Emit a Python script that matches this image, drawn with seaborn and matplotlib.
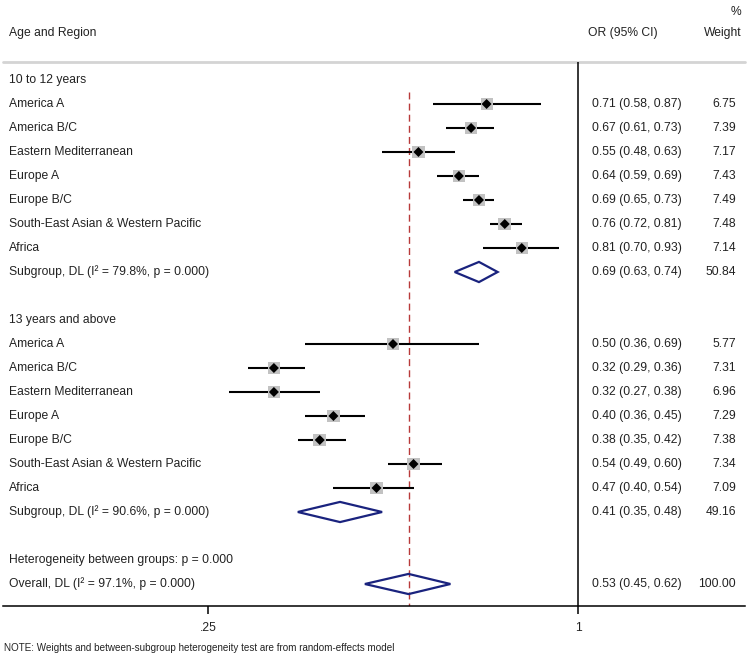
import numpy as np
import pandas as pd
import matplotlib
matplotlib.use("Agg")
import matplotlib.pyplot as plt
import matplotlib.transforms as mtransforms
import seaborn as sns

# ------------------------------------------------------------
# Data
# ------------------------------------------------------------
regions = [
    "America A",
    "America B/C",
    "Eastern Mediterranean",
    "Europe A",
    "Europe B/C",
    "South-East Asian & Western Pacific",
    "Africa",
]
groups = ["10 to 12 years", "13 years and above"]

or_young = [0.71, 0.67, 0.55, 0.64, 0.69, 0.76, 0.81]
lo_young = [0.58, 0.61, 0.48, 0.59, 0.65, 0.72, 0.70]
hi_young = [0.87, 0.73, 0.63, 0.69, 0.73, 0.81, 0.93]
wt_young = [6.75, 7.39, 7.17, 7.43, 7.49, 7.48, 7.14]

or_old = [0.50, 0.32, 0.32, 0.40, 0.38, 0.54, 0.47]
lo_old = [0.36, 0.29, 0.27, 0.36, 0.35, 0.49, 0.40]
hi_old = [0.69, 0.36, 0.38, 0.45, 0.42, 0.60, 0.54]
wt_old = [5.77, 7.31, 6.96, 7.29, 7.38, 7.34, 7.09]

sub_labels = [
    "Subgroup, DL (I\u00b2 = 79.8%, p = 0.000)",
    "Subgroup, DL (I\u00b2 = 90.6%, p = 0.000)",
]
sub_or = [0.69, 0.41]
sub_lo = [0.63, 0.35]
sub_hi = [0.74, 0.48]
sub_wt = [50.84, 49.16]

het_label = "Heterogeneity between groups: p = 0.000"
overall_label = "Overall, DL (I\u00b2 = 97.1%, p = 0.000)"
overall_or, overall_lo, overall_hi, overall_wt = 0.53, 0.45, 0.62, 100.00

tick_values = [0.25, 1]
tick_labels = [".25", "1"]
note = "NOTE: Weights and between-subgroup heterogeneity test are from random-effects model"

# ------------------------------------------------------------
# Build row table
# ------------------------------------------------------------
study_rows = []
for g, (ors, los, his, wts) in enumerate(
    [(or_young, lo_young, hi_young, wt_young), (or_old, lo_old, hi_old, wt_old)]
):
    base = g * 10
    for i, name in enumerate(regions):
        study_rows.append(
            {"row": base + 1 + i, "label": name, "or": ors[i],
             "lo": los[i], "hi": his[i], "weight": wts[i]}
        )
studies = pd.DataFrame(study_rows)

pooled = pd.DataFrame(
    {
        "row": [8, 18, 21],
        "label": sub_labels + [overall_label],
        "or": sub_or + [overall_or],
        "lo": sub_lo + [overall_lo],
        "hi": sub_hi + [overall_hi],
        "weight": sub_wt + [overall_wt],
    }
)

# ------------------------------------------------------------
# Figure
# ------------------------------------------------------------
sns.set_theme(style="white")
plt.rcParams["font.family"] = ["Liberation Sans", "DejaVu Sans"]

W, H = 749, 659
FS = 8.7
TXT = "#222222"

fig = plt.figure(figsize=(W / 100, H / 100), dpi=100)
ax = fig.add_axes([3 / W, (H - 606) / H, (745 - 3) / W, (606 - 62) / H])

ax.set_xscale("log")
ax.set_xlim(np.exp((3 - 578) / 266.9), np.exp((745 - 578) / 266.9))
ax.set_ylim((606 - 80) / 24, (62 - 80) / 24)

for side in ["top", "left", "right"]:
    ax.spines[side].set_visible(False)
ax.spines["bottom"].set_color("black")
ax.spines["bottom"].set_linewidth(1.1)
ax.set_yticks([])
ax.xaxis.set_minor_locator(matplotlib.ticker.NullLocator())
ax.set_xticks(tick_values)
ax.set_xticklabels(tick_labels, fontsize=FS, color=TXT)
ax.tick_params(axis="x", which="major", direction="out", length=6, width=1.1,
               pad=5.5, bottom=True, color="black")

# header separator and null line
ax.axhline(ax.get_ylim()[1], color="#d4d4d4", lw=2, zorder=1, clip_on=False)
ax.axvline(1, color="black", lw=1.1, zorder=2)

# overall effect reference line
ax.vlines(overall_or, 0.5, ax.get_ylim()[0], color="#b83a3a", lw=1.0,
          linestyles=(0, (5, 3)), zorder=2)

# study CIs, weight boxes and point estimates
ax.hlines(studies["row"], studies["lo"], studies["hi"], color="black", lw=1.5, zorder=3)
sns.scatterplot(
    data=studies, x="or", y="row", size="weight",
    sizes=(studies["weight"].min() * 11, studies["weight"].max() * 11),
    marker="s", color="#c2c2c2", edgecolor="none", legend=False, ax=ax, zorder=4,
)
sns.scatterplot(
    data=studies, x="or", y="row", marker="D", s=26, color="black",
    edgecolor="none", legend=False, ax=ax, zorder=5,
)

# pooled diamonds
for _, r in pooled.iterrows():
    ax.fill(
        [r["lo"], r["or"], r["hi"], r["or"]],
        [r["row"], r["row"] - 0.42, r["row"], r["row"] + 0.42],
        fill=False, edgecolor="#1a237e", lw=1.6, zorder=5,
    )

ax.set_xlabel("")
ax.set_ylabel("")

# ------------------------------------------------------------
# Text columns
# ------------------------------------------------------------
trans = mtransforms.blended_transform_factory(fig.transFigure, ax.transData)
x_lab, x_or, x_wt = 9 / W, 592 / W, 736 / W


def put(x, y, s, ha="left", **kw):
    ax.text(x, y, s, transform=trans, ha=ha, va="center", fontsize=FS,
            color=TXT, clip_on=False, **kw)


put(x_lab, -1.96, "Age and Region")
put(588 / W, -1.96, "OR (95% CI)")
put(742 / W, -1.96, "Weight", ha="right")
put(741 / W, -2.85, "%", ha="right")

for g, name in enumerate(groups):
    put(x_lab, g * 10, name)

for _, r in pd.concat([studies, pooled]).iterrows():
    put(x_lab, r["row"], r["label"])
    put(x_or, r["row"], f"{r['or']:.2f} ({r['lo']:.2f}, {r['hi']:.2f})")
    put(x_wt, r["row"], f"{r['weight']:.2f}", ha="right")

put(x_lab, 20, het_label)

fig.text(4 / W, 1 - 648 / H, note, fontsize=7.1, color=TXT, ha="left", va="center")

fig.savefig("out.png", dpi=100)
plt.close(fig)
